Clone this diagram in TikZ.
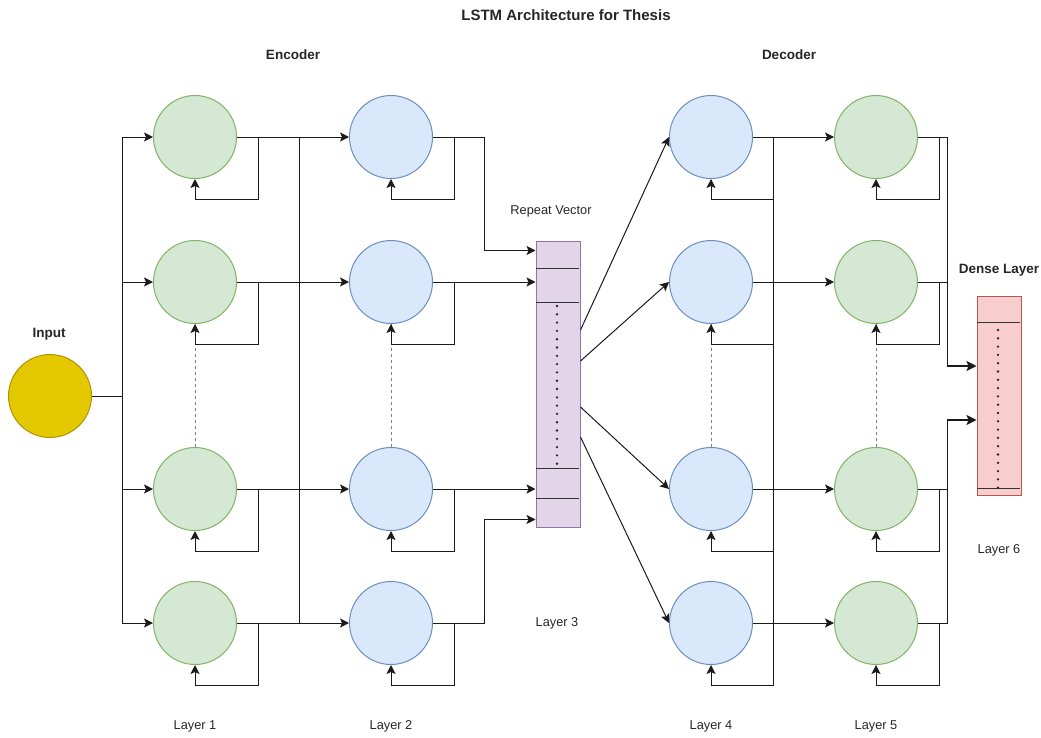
\documentclass[tikz,border=0pt]{standalone}
\usepackage{fontspec}
\setmainfont{Liberation Sans}
\usetikzlibrary{arrows.meta}
\definecolor{gfill}{HTML}{D5E8D4}\definecolor{gdraw}{HTML}{82B366}
\definecolor{bfill}{HTML}{DAE8FC}\definecolor{bdraw}{HTML}{6C8EBF}
\definecolor{yfill}{HTML}{E3C800}\definecolor{ydraw}{HTML}{B09500}
\definecolor{pfill}{HTML}{E1D5E7}\definecolor{pdraw}{HTML}{9673A6}
\definecolor{rfill}{HTML}{F8CECC}\definecolor{rdraw}{HTML}{B85450}
\definecolor{ln}{HTML}{1A1A1A}
\tikzset{
  circ/.style={circle, minimum size=83pt, inner sep=0pt, line width=1pt},
  gcell/.style={circ, fill=gfill, draw=gdraw},
  bcell/.style={circ, fill=bfill, draw=bdraw},
  ycell/.style={circ, fill=yfill, draw=ydraw},
  arr/.style={ln, line width=1pt, -{Stealth[length=9pt,width=9pt,inset=2pt]}},
  plain/.style={ln, line width=1pt},
  thickarr/.style={ln, line width=1.8pt, -{Stealth[length=10pt,width=10pt,inset=2pt]}},
  dashv/.style={gray, line width=1pt, dash pattern=on 3pt off 3pt},
  dots/.style={black!85, line width=2.6pt, line cap=round, dash pattern=on 0pt off 8.3pt},
  sep/.style={black!80, line width=1pt},
  lbl/.style={font=\fontsize{12.8}{15}\selectfont, text=black!85},
  blbl/.style={font=\fontsize{13.5}{16}\selectfont\bfseries, text=black!85},
  tlbl/.style={font=\fontsize{15}{18}\selectfont\bfseries, text=black!85},
}
\begin{document}
\begin{tikzpicture}[x=1pt,y=-1pt]
\useasboundingbox (0,0) rectangle (1041,737);
% nodes
\node[ycell] (in) at (50,396) {};
\foreach \i/\y in {1/137,2/282,3/489,4/623}{
  \node[gcell] (a\i) at (195,\y) {};
  \node[bcell] (b\i) at (391,\y) {};
  \node[bcell] (d\i) at (711,\y) {};
  \node[gcell] (e\i) at (876,\y) {};
}
\node[draw=pdraw, fill=pfill, line width=1pt, minimum width=44pt, minimum height=286pt, inner sep=0pt] (rv) at (558,384) {};
\node[draw=rdraw, fill=rfill, line width=1pt, minimum width=44pt, minimum height=199pt, inner sep=0pt] (dn) at (999,395.5) {};
% repeat vector internals
\draw[sep] (536,268) -- (579,268);
\draw[sep] (536,302) -- (579,302);
\draw[sep] (536,468) -- (579,468);
\draw[sep] (536,498) -- (579,498);
\draw[dots] (557,306) -- (557,466);
% dense internals
\draw[sep] (977,322) -- (1020,322);
\draw[sep] (977,488) -- (1020,488);
\draw[dots] (998,330) -- (998,488);
% dashed separators
\foreach \c in {a,b,d,e}{
  \draw[dashv] (\c3.north) -- (\c2.south);
}
% input to layer 1
\coordinate (ib) at (122,396);
\draw[plain] (in.east) -- (ib);
\foreach \i in {1,...,4}{ \draw[arr] (ib) |- (a\i.west); }
% layer 1 -> layer 2
\coordinate (bus1) at (299,0);
\draw[plain] (bus1 |- a1.east) -- (bus1 |- a4.east);
\foreach \i in {1,...,4}{
  \draw[arr] (a\i.east) -- (b\i.west);
  \draw[arr] (a\i.east) -- ++(21,0) |- ([yshift=-20pt]a\i.south) -- (a\i.south);
  \draw[arr] (b\i.east) -- ++(21,0) |- ([yshift=-20pt]b\i.south) -- (b\i.south);
}
% layer 2 -> repeat vector
\draw[arr] (b1.east) -- ++(51,0) |- ([yshift=-10pt]rv.north west);
\draw[arr] (b2.east) -- (b2.east -| rv.west);
\draw[arr] (b3.east) -- (b3.east -| rv.west);
\draw[arr] (b4.east) -- ++(51,0) |- ([yshift=8pt]rv.south west);
% repeat vector -> layer 4
\draw[arr] ([yshift=54pt]rv.east) -- (d1.west);
\draw[arr] ([yshift=23pt]rv.east) -- (d2.west);
\draw[arr] ([yshift=-23pt]rv.east) -- (d3.west);
\draw[arr] ([yshift=-53pt]rv.east) -- (d4.west);
% layer 4 -> layer 5
\coordinate (bus4) at (773,0);
\draw[plain] (bus4 |- d1.east) -- ([yshift=-20pt]bus4 |- d4.south);
\foreach \i in {1,...,4}{
  \draw[arr] (d\i.east) -- (e\i.west);
  \draw[arr] (bus4 |- d\i.east) |- ([yshift=-20pt]d\i.south) -- (d\i.south);
  \draw[arr] (e\i.east) -- ++(21,0) |- ([yshift=-20pt]e\i.south) -- (e\i.south);
}
% layer 5 -> dense
\coordinate (bus5) at (947,0);
\coordinate (dj1) at ([yshift=29.5pt]bus5 |- dn.west);
\coordinate (dj2) at ([yshift=-24.5pt]bus5 |- dn.west);
\draw[plain] (e2.east) -- (bus5 |- e2.east);
\draw[plain] (e3.east) -- (bus5 |- e3.east);
\draw[plain] (e1.east) -| (dj1);
\draw[plain] (e4.east) -| (dj2);
\draw[thickarr] (dj1) -- ([yshift=29.5pt]dn.west);
\draw[thickarr] (dj2) -- ([yshift=-24.5pt]dn.west);
% labels
\node[tlbl] (title) at (566,15) {LSTM Architecture for Thesis};
\node[blbl] (enc) at (293,55) {Encoder};
\node[blbl] (dec) at (789,55) {Decoder};
\node[blbl] (inl) at (49,334) {Input};
\node[lbl] (rvl) at (551,211) {Repeat Vector};
\node[blbl] (dnl) at (999,270) {Dense Layer};
\node[lbl] (l1) at (195,726) {Layer 1};
\node[lbl] (l2) at (391,726) {Layer 2};
\node[lbl] (l3) at (557,623) {Layer 3};
\node[lbl] (l4) at (711,726) {Layer 4};
\node[lbl] (l5) at (876,726) {Layer 5};
\node[lbl] (l6) at (999,550) {Layer 6};
\end{tikzpicture}
\end{document}
